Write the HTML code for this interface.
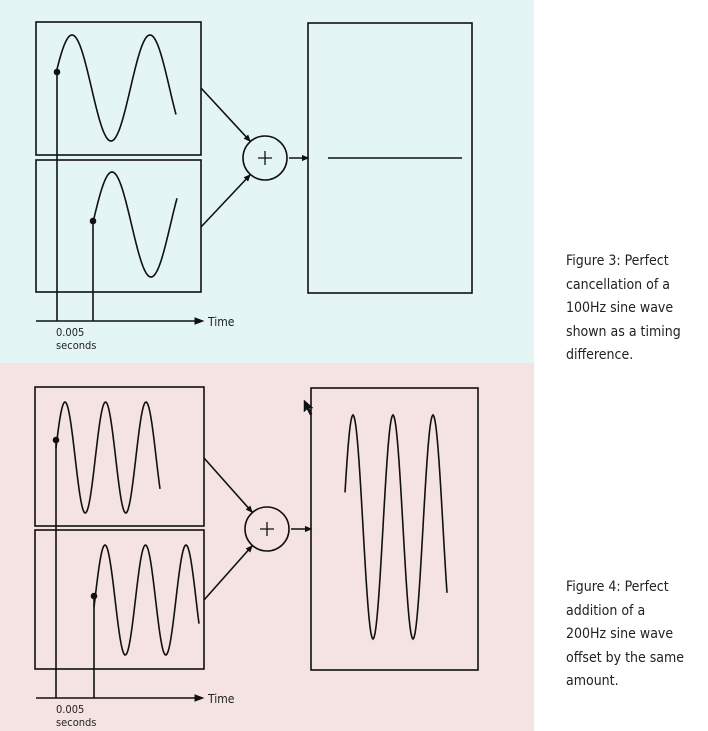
<!DOCTYPE html>
<html><head><meta charset="utf-8">
<style>
html,body{margin:0;padding:0;background:#fff;}
body{width:708px;height:731px;position:relative;overflow:hidden;font-family:"Liberation Sans",sans-serif;}
.cap{position:absolute;left:566px;font-size:14px;line-height:23.5px;color:#222;font-family:"DejaVu Sans Condensed","Liberation Sans",sans-serif;}
</style></head>
<body>
<svg id="fig" width="708" height="731" style="position:absolute;left:0;top:0">
<rect x="0" y="0" width="534" height="363" fill="#e3f5f5"/>
<rect x="0" y="363" width="534" height="368" fill="#f5e2e3"/>
<g id="g" fill="none" stroke="#111" stroke-width="1.6"></g>
</svg>
<div class="cap" style="top:250px">Figure 3: Perfect<br>cancellation of a<br>100Hz sine wave<br>shown as a timing<br>difference.</div>
<div class="cap" style="top:576px">Figure 4: Perfect<br>addition of a<br>200Hz sine wave<br>offset by the same<br>amount.</div>
<script>
// wave data: [startX, endX, peakX, period, peakY, troughY]
const waveNames = ['fig3-wave-a','fig3-wave-b','fig3-sum','fig4-wave-a','fig4-wave-b','fig4-sum'];
const waveStart = [57, 93, 328, 56, 94, 345];
const waveEnd = [176, 177, 462, 160, 199, 447];
const wavePeak = [72, 112, 0, 65, 105, 353];
const wavePeriod = [78, 78, 78, 40.5, 40.5, 40];
const wavePeakY = [35, 172, 158, 402, 545, 415];
const waveTroughY = [141, 277, 158, 513, 655, 639];
// boxes: [x,y,w,h]
const boxNames = ['fig3-box-a','fig3-box-b','fig3-box-out','fig4-box-a','fig4-box-b','fig4-box-out'];
const boxX = [36, 36, 308, 35, 35, 311];
const boxY = [22, 160, 23, 387, 530, 388];
const boxW = [165, 165, 164, 169, 169, 167];
const boxH = [133, 132, 270, 139, 139, 282];

const NS='http://www.w3.org/2000/svg';
const g=document.getElementById('g');
function el(t,a){const e=document.createElementNS(NS,t);for(const k in a)e.setAttribute(k,a[k]);g.appendChild(e);return e;}

for(let i=0;i<boxX.length;i++){
  const r=el('rect',{x:boxX[i],y:boxY[i],width:boxW[i],height:boxH[i]});
  
  
}
function waveY(i,x){
  const mid=(wavePeakY[i]+waveTroughY[i])/2, amp=(waveTroughY[i]-wavePeakY[i])/2;
  return mid-amp*Math.cos(2*Math.PI*(x-wavePeak[i])/wavePeriod[i]);
}
for(let i=0;i<waveStart.length;i++){
  let d='';
  for(let x=waveStart[i];x<=waveEnd[i];x+=1)d+=(d?'L':'M')+x+' '+waveY(i,x).toFixed(1);
  const p=el('path',{d:d});
  
  
}
// panels: circle, arrows, time axis, markers
const panels=[
 {cx:265,cy:158,a1:[201,88],a2:[201,227],out:[308,158],ax:321,m:[[57,72],[93,221]],p:'fig3'},
 {cx:267,cy:529,a1:[204,458],a2:[204,600],out:[311,529],ax:698,m:[[56,440],[94,596]],p:'fig4'}
];
panels.forEach(P=>{
  const c=el('circle',{cx:P.cx,cy:P.cy,r:22});
  
  
  const pl=el('path',{d:`M${P.cx-7} ${P.cy}H${P.cx+7}M${P.cx} ${P.cy-7}V${P.cy+7}`,'stroke-width':1.3});
  
  
  [[P.a1,[P.cx-15,P.cy-17]],[P.a2,[P.cx-15,P.cy+17]],[[P.cx+24,P.cy],P.out]].forEach((s,k)=>{
    const l=el('line',{x1:s[0][0],y1:s[0][1],x2:s[1][0],y2:s[1][1]});
    
    
    const ang=Math.atan2(s[1][1]-s[0][1],s[1][0]-s[0][0]);
    const hx=s[1][0],hy=s[1][1];
    const h=el('path',{d:`M${hx} ${hy}L${hx-6*Math.cos(ang-0.4)} ${hy-6*Math.sin(ang-0.4)}L${hx-6*Math.cos(ang+0.4)} ${hy-6*Math.sin(ang+0.4)}Z`,fill:'#111','stroke-width':1});
    
    
  });
  const ax=el('line',{x1:36,y1:P.ax,x2:197,y2:P.ax});
  
  
  const ah=el('path',{d:`M203 ${P.ax}L195 ${P.ax-3}L195 ${P.ax+3}Z`,fill:'#111','stroke-width':1});
  
  
  P.m.forEach((m,k)=>{
    const v=el('line',{x1:m[0],y1:m[1],x2:m[0],y2:P.ax});
    
    
    const d=el('circle',{cx:m[0],cy:m[1],r:2.5,fill:'#111'});
    
    
  });
  const t=el('text',{x:208,y:P.ax+5,fill:'#222',stroke:'none','font-size':12,'font-family':'"DejaVu Sans Condensed","Liberation Sans",sans-serif'});
  t.textContent='Time';
  
  
  const t2=el('text',{x:56,y:P.ax+15,fill:'#222',stroke:'none','font-size':11,'font-family':'"DejaVu Sans Condensed","Liberation Sans",sans-serif'});
  t2.textContent='0.005';
  
  
  const t3=el('text',{x:56,y:P.ax+28,fill:'#222',stroke:'none','font-size':11,'font-family':'"DejaVu Sans Condensed","Liberation Sans",sans-serif'});
  t3.textContent='seconds';
  
  
});
const cur=el('path',{d:'M304 400L304 412L307 409L310 415L312 414L309 408L313 408Z',fill:'#111','stroke-width':0.5});


</script>
</body></html>
